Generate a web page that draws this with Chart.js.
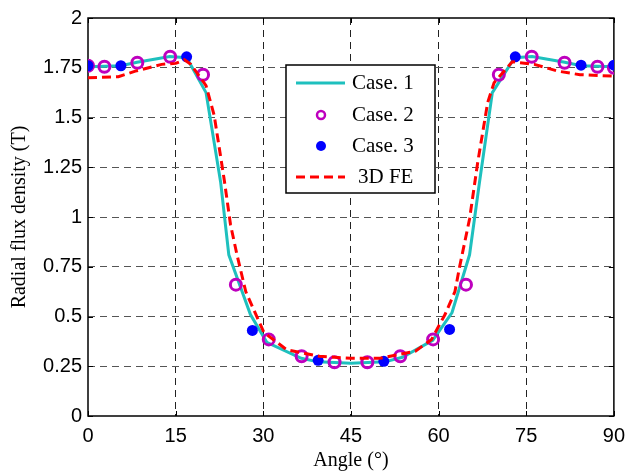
<!DOCTYPE html>
<html>
<head>
<meta charset="utf-8">
<title>Radial flux density</title>
<script src="https://cdn.jsdelivr.net/npm/chart.js@4.4.1/dist/chart.umd.min.js"></script>
<style>
	body{
		margin: 0;
		background-color: #fff;
	}
	#wrap{
		width: 633px;
		height: 474px;
	}
</style>
<script>
// data
var case1Angle = [0, 5.6, 8.4, 14.0, 16.9, 20.2, 22.7, 24.1, 27.8, 30.6, 36.5, 39.4, 45, 50.8, 53.8, 59.0, 62.3, 65.3, 67.0, 69.2, 73.0, 76.0, 81.6, 84.4, 90];
var case1Flux = [1.755, 1.76, 1.778, 1.807, 1.80, 1.625, 1.175, 0.81, 0.51, 0.37, 0.29, 0.272, 0.265, 0.272, 0.295, 0.38, 0.52, 0.81, 1.175, 1.625, 1.80, 1.807, 1.778, 1.76, 1.755];

var case2Angle = [0, 2.81, 8.44, 14.06, 19.69, 25.31, 30.94, 36.56, 42.19, 47.81, 53.44, 59.06, 64.69, 70.31, 75.94, 81.56, 87.19, 90];
var case2Flux = [1.76, 1.755, 1.775, 1.805, 1.715, 0.66, 0.385, 0.30, 0.27, 0.27, 0.30, 0.385, 0.66, 1.715, 1.805, 1.775, 1.755, 1.75];

var case3Angle = [0, 5.63, 16.88, 28.13, 39.38, 50.63, 61.88, 73.13, 84.38, 90];
var case3Flux = [1.76, 1.76, 1.805, 0.43, 0.28, 0.275, 0.435, 1.805, 1.763, 1.763];

var feAngle = [0, 5.2, 8.1, 12.6, 15.0, 16.5, 17.6, 20.2, 21.6, 23.3, 24.4, 25.5, 27.0, 30.1, 34.0, 39.6, 45, 50.0, 56.0, 58.8, 61.1, 62.8, 63.6, 65.3, 66.7, 68.4, 69.5, 72.6, 76.4, 80.4, 84.2, 90];
var feFlux = [1.70, 1.705, 1.733, 1.767, 1.772, 1.79, 1.767, 1.66, 1.51, 1.19, 0.96, 0.81, 0.625, 0.42, 0.333, 0.30, 0.29, 0.29, 0.325, 0.385, 0.51, 0.625, 0.75, 0.99, 1.275, 1.575, 1.675, 1.78, 1.767, 1.733, 1.715, 1.708];

var xTicks = [0, 15, 30, 45, 60, 75, 90];
var yTicks = [0, 0.25, 0.5, 0.75, 1, 1.25, 1.5, 1.75, 2];
var seriesNames = ["Case. 1", "Case. 2", "Case. 3", "3D FE"];

var cyan = "rgb(30,192,190)";
var magenta = "rgb(190,0,190)";
var blue = "rgb(0,0,255)";
var red = "rgb(255,0,0)";

function pts(xs, ys){
	var out = [];
	for(var i = 0; i < xs.length; i++){
		out.push({x: xs[i], y: ys[i]});
	}
	return out;
}
</script>
</head>
<body>
<div id="wrap"><canvas id="chart" width="633" height="474"></canvas></div>
<script>
// box + inward ticks like matlab
var boxPlugin = {
	id: "box",
	beforeDatasetsDraw: function(chart){
		var c = chart.ctx, a = chart.chartArea;
		var sx = chart.scales.x, sy = chart.scales.y;
		c.save();
		c.strokeStyle = "#000";
		c.lineWidth = 1;
		c.beginPath();
		xTicks.forEach(function(v){
			var px = Math.round(sx.getPixelForValue(v)) + 0.5;
			c.moveTo(px, a.bottom); c.lineTo(px, a.bottom - 5);
			c.moveTo(px, a.top); c.lineTo(px, a.top + 5);
		});
		yTicks.forEach(function(v){
			var py = Math.round(sy.getPixelForValue(v)) + 0.5;
			c.moveTo(a.left, py); c.lineTo(a.left + 5, py);
			c.moveTo(a.right, py); c.lineTo(a.right - 5, py);
		});
		c.stroke();
		c.lineWidth = 1.5;
		c.strokeRect(a.left, a.top, a.right - a.left, a.bottom - a.top);
		c.restore();
	}
};

// legend box inside the axes
var legendPlugin = {
	id: "boxLegend",
	afterDatasetsDraw: function(chart){
		var c = chart.ctx;
		var bx = 286, by = 65, bw = 149, bh = 128;
		c.save();
		c.fillStyle = "#fff";
		c.fillRect(bx, by, bw, bh);
		c.strokeStyle = "#000";
		c.lineWidth = 1.5;
		c.strokeRect(bx, by, bw, bh);
		var rows = [83, 115, 146, 177];
		var x0 = 296, x1 = 345, xm = 321;
		// Case 1 line
		c.strokeStyle = cyan; c.lineWidth = 3;
		c.beginPath(); c.moveTo(x0, rows[0]); c.lineTo(x1, rows[0]); c.stroke();
		// Case 2 circle
		c.strokeStyle = magenta; c.lineWidth = 2.5;
		c.beginPath(); c.arc(xm, rows[1], 4, 0, Math.PI * 2); c.stroke();
		// Case 3 dot
		c.fillStyle = blue;
		c.beginPath(); c.arc(xm, rows[2], 5, 0, Math.PI * 2); c.fill();
		// FE dashed
		c.strokeStyle = red; c.lineWidth = 3; c.setLineDash([9, 5]);
		c.beginPath(); c.moveTo(x0, rows[3]); c.lineTo(x1, rows[3]); c.stroke();
		c.setLineDash([]);
		c.fillStyle = "#000";
		c.font = "21px 'Liberation Serif'";
		c.textBaseline = "middle";
		c.textAlign = "left";
		c.fillText(seriesNames[0], 352, rows[0]);
		c.fillText(seriesNames[1], 352, rows[1]);
		c.fillText(seriesNames[2], 352, rows[2]);
		c.fillText(seriesNames[3], 358, rows[3]);
		c.restore();
	}
};

var ctx = document.getElementById("chart").getContext("2d");
window.fluxChart = new Chart(ctx, {
	type: "scatter",
	data: {
		datasets: [
			{
				label: seriesNames[0],
				data: pts(case1Angle, case1Flux),
				showLine: true,
				borderColor: cyan,
				borderWidth: 3,
				pointRadius: 0,
				tension: 0,
				order: 4
			},
			{
				label: seriesNames[1],
				data: pts(case2Angle, case2Flux),
				showLine: false,
				pointStyle: "circle",
				pointRadius: 5.5,
				borderColor: magenta,
				backgroundColor: "rgba(0,0,0,0)",
				pointBorderWidth: 3,
				order: 3
			},
			{
				label: seriesNames[2],
				data: pts(case3Angle, case3Flux),
				showLine: false,
				pointRadius: 5.5,
				pointBorderWidth: 0,
				backgroundColor: blue,
				borderColor: blue,
				order: 2
			},
			{
				label: seriesNames[3],
				data: pts(feAngle, feFlux),
				showLine: true,
				borderColor: red,
				borderWidth: 3,
				borderDash: [9, 5],
				pointRadius: 0,
				tension: 0,
				order: 1
			}
		]
	},
	options: {
		responsive: false,
		animation: false,
		layout: {padding: {top: 13, right: 12, left: 0, bottom: 0}},
		plugins: {
			legend: {display: false},
			tooltip: {enabled: false}
		},
		scales: {
			x: {
				type: "linear",
				min: 0, max: 90,
				afterFit: function(s){ s.height = 58; },
				afterBuildTicks: function(s){ s.ticks = xTicks.map(function(v){ return {value: v}; }); },
				ticks: {
					color: "#000",
					padding: 8,
					font: {family: "'Liberation Sans'", size: 20}
				},
				grid: {
					drawTicks: false,
					color: function(c){ return (c.tick && (c.tick.value === 0 || c.tick.value === 90)) ? "rgba(0,0,0,0)" : "#222"; }
				},
				border: {display: false, dash: [7, 5]},
				title: {
					display: true,
					text: "Angle (°)",
					color: "#000",
					font: {family: "'Liberation Serif'", size: 20},
					padding: {top: 0, bottom: 1}
				}
			},
			y: {
				type: "linear",
				min: 0, max: 2,
				afterFit: function(s){ s.width = 88; },
				afterBuildTicks: function(s){ s.ticks = yTicks.map(function(v){ return {value: v}; }); },
				ticks: {
					color: "#000",
					padding: 6,
					font: {family: "'Liberation Sans'", size: 20},
					callback: function(v){ return String(v); }
				},
				grid: {
					drawTicks: false,
					color: function(c){ return (c.tick && (c.tick.value === 0 || c.tick.value === 2)) ? "rgba(0,0,0,0)" : "#555"; }
				},
				border: {display: false, dash: [7, 5]},
				title: {
					display: true,
					text: "Radial flux density (T)",
					color: "#000",
					font: {family: "'Liberation Serif'", size: 20},
					padding: {top: 8, bottom: 0}
				}
			}
		}
	},
	plugins: [boxPlugin, legendPlugin]
});
</script>
</body>
</html>
